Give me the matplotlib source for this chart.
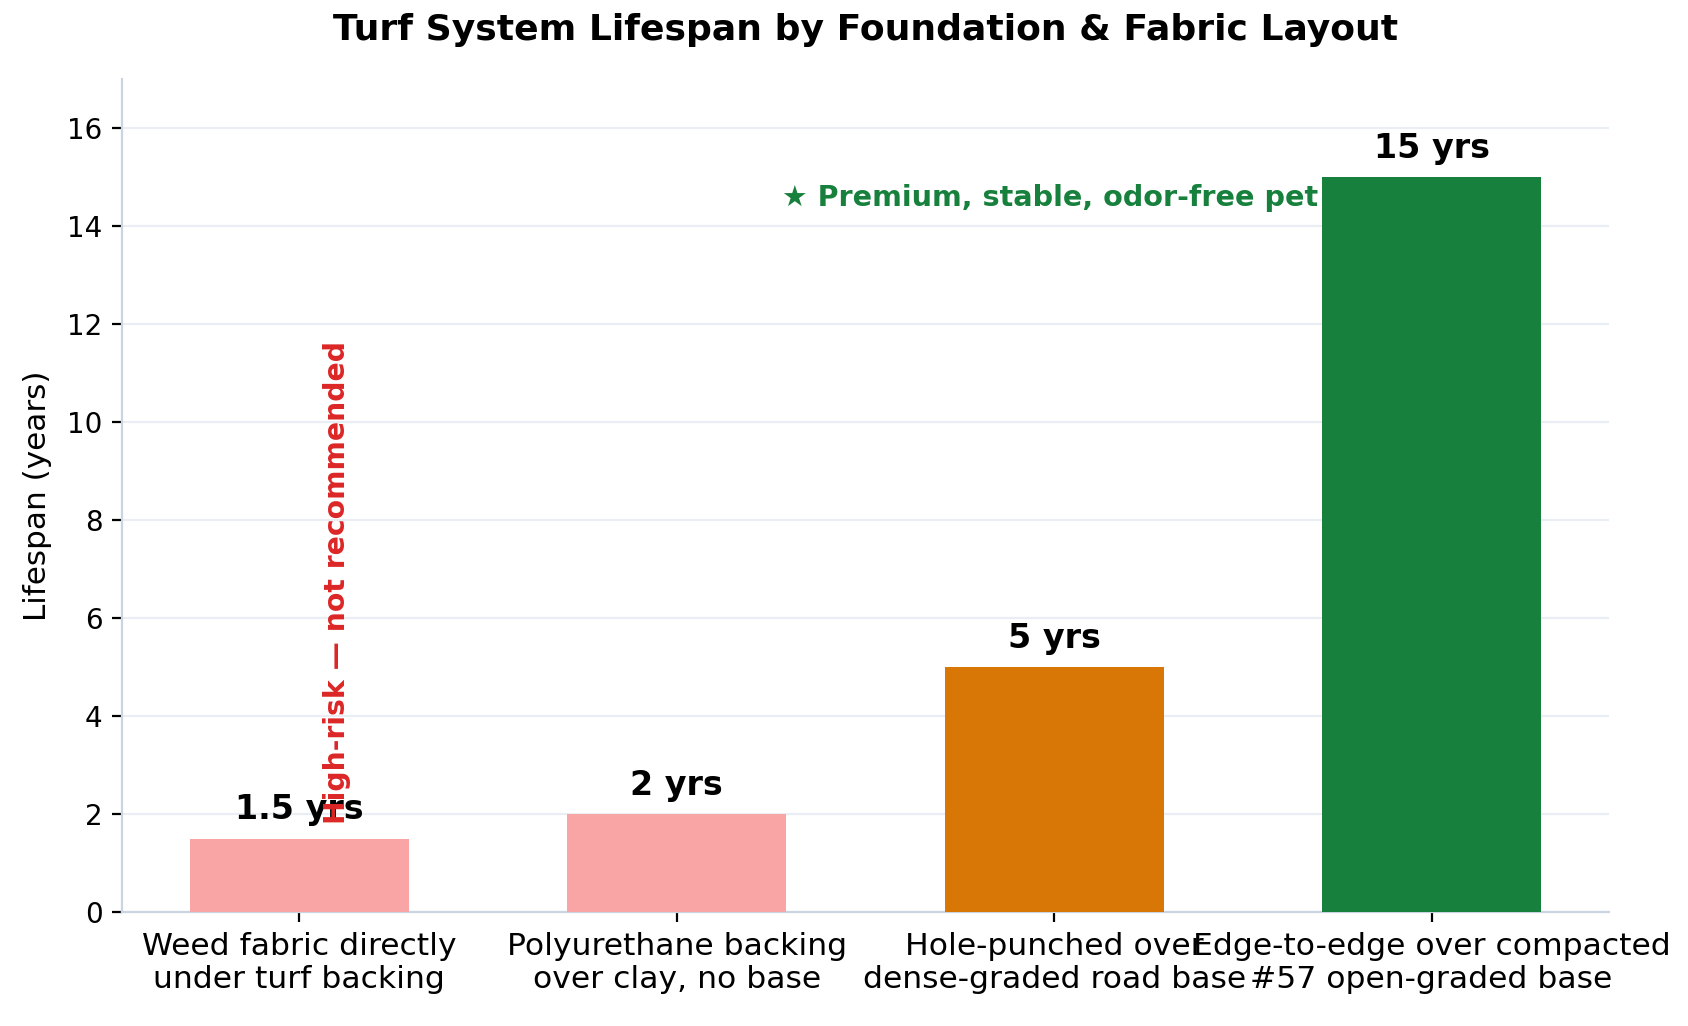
import matplotlib
matplotlib.use('Agg')
import matplotlib.pyplot as plt
import numpy as np

# Data
categories = [
    'Weed fabric directly\nunder turf backing',
    'Polyurethane backing\nover clay, no base',
    'Hole-punched over\ndense-graded road base',
    'Edge-to-edge over compacted\n#57 open-graded base',
]
lifespan = [1.5, 2, 5, 15]
value_labels = ['1.5 yrs', '2 yrs', '5 yrs', '15 yrs']
colors = ['#F9A5A5', '#F9A5A5', '#D97706', '#16803C']

fig, ax = plt.subplots(figsize=(8.44, 5.13), dpi=200)
fig.subplots_adjust(left=0.0723, right=0.953, bottom=0.111, top=0.923)

x = np.arange(len(categories))
ax.bar(x, lifespan, width=0.58, color=colors, zorder=3)

# Labels above bars
for xi, v, lab in zip(x, lifespan, value_labels):
    ax.text(xi, v + 0.25, lab, ha='center', va='bottom',
            fontsize=12, fontweight='bold', color='black', zorder=4)

# Annotations
ax.text(0.1, 1.8, 'High-risk — not recommended', rotation=90,
        ha='center', va='bottom', fontsize=10.2, fontweight='bold',
        color='#DC2626', zorder=5)
ax.text(1.28, 14.57, '★ Premium, stable, odor-free pet turf', ha='left',
        va='center', fontsize=10.3, fontweight='bold', color='#16803C', zorder=2)

ax.set_xticks(x)
ax.set_xticklabels(categories, fontsize=11.3)
ax.set_ylim(0, 17)
ax.set_yticks(range(0, 17, 2))
ax.tick_params(axis='y', labelsize=10)
ax.set_ylabel('Lifespan (years)', fontsize=11.2, labelpad=5.5)
ax.set_title('Turf System Lifespan by Foundation & Fabric Layout',
             fontsize=13, fontweight='bold', pad=14)

ax.grid(axis='y', color='#E2E8F0', linewidth=0.8, alpha=0.7, zorder=0)
ax.set_axisbelow(True)
for s in ['top', 'right']:
    ax.spines[s].set_visible(False)
for s in ['left', 'bottom']:
    ax.spines[s].set_color('#CBD5E1')

plt.savefig('out.png', dpi=200)
